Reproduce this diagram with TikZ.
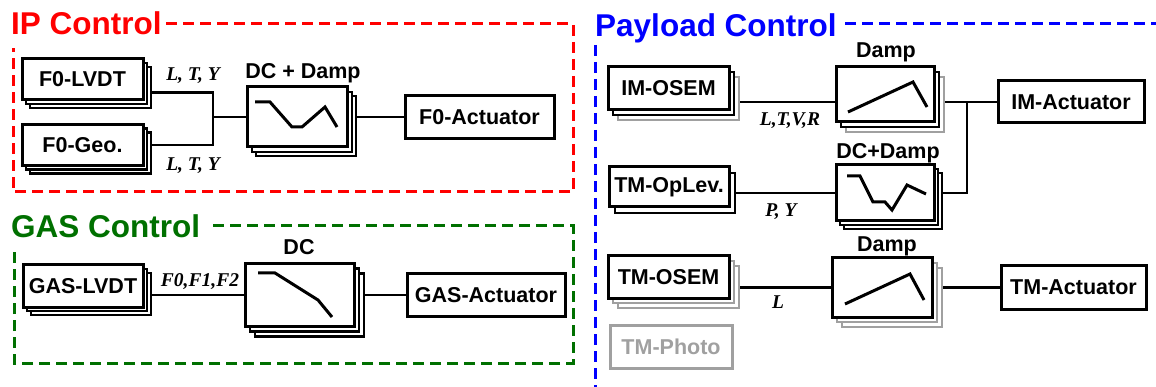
\documentclass[tikz,border=0pt]{standalone}
\usepackage{fontspec}
\setmainfont{Liberation Sans}
\newfontfamily\sigfont{Liberation Serif}
\usetikzlibrary{shadows,backgrounds}
\definecolor{ipred}{RGB}{255,0,0}
\definecolor{gasgreen}{RGB}{0,112,0}
\definecolor{plblue}{RGB}{0,0,255}
\definecolor{shade}{RGB}{160,160,160}
\tikzset{x=1pt,y=-1pt,
  every node/.style={font=\fontsize{21.5}{24}\selectfont\bfseries},
  blk/.style={draw,fill=white,line width=3pt,inner sep=0pt},
  lay/.style={copy shadow={shadow xshift=#1,shadow yshift=-#1,draw=black,fill=white,line width=2.8pt}},
  glay/.style={copy shadow={shadow xshift=#1,shadow yshift=-#1,draw=shade,fill=white,line width=2.8pt}},
  title/.style={font=\fontsize{31.5}{34}\selectfont\bfseries,anchor=base west,inner sep=0pt},
  filtcap/.style={anchor=base,inner sep=0pt},
  sig/.style={font=\sigfont\fontsize{19.5}{22}\selectfont\bfseries\itshape,anchor=base,inner sep=0pt},
  frame/.style={dash pattern=on 11pt off 6pt,line width=3pt},
  wire/.style={line width=2.7pt},
  icon/.style={line width=3pt}}
\begin{document}
\begin{tikzpicture}
\useasboundingbox (0,0) rectangle (1156,387);
% IP control
\node[title,ipred] (iptitle) at (11,35) {IP Control};
\draw[frame,ipred] (166,24) -| (573,192) -| (13,48);
\node[blk,lay=8pt,lay=4pt,minimum width=121pt,minimum height=41pt] (lvdt) at (82.5,79.5) {F0-LVDT};
\node[blk,lay=8pt,lay=4pt,minimum width=121pt,minimum height=41pt] (geo) at (82.5,145) {F0-Geo.};
\node[blk,lay=9pt,lay=5pt,minimum width=100pt,minimum height=60pt] (ipf) at (297,117) {};
\node[blk,minimum width=149pt,minimum height=43pt] (f0act) at (479.5,117) {F0-Actuator};
\node[filtcap] (ipcap) at (303,79) {DC + Damp};
\node[sig] (ltya) at (193,81) {L, T, Y};
\node[sig] (ltyb) at (193,171) {L, T, Y};
\draw[icon,shift={(ipf.center)}] (-42,-15)--(-27,-15)--(-5,10)--(5,10)--(28,-10)--(40,10);
\coordinate (jn) at (213,117);
% GAS control
\node[title,gasgreen] (gastitle) at (11,238) {GAS Control};
\draw[frame,gasgreen] (213,226) -| (573,363) -| (14,247);
\node[blk,lay=8pt,lay=4pt,minimum width=120pt,minimum height=42pt] (gaslvdt) at (83,286) {GAS-LVDT};
\node[blk,lay=10pt,lay=5pt,minimum width=109pt,minimum height=63pt] (gasf) at (299.5,295) {};
\node[blk,minimum width=158pt,minimum height=43pt] (gasact) at (486,295) {GAS-Actuator};
\node[filtcap] (gascap) at (299,255) {DC};
\node[sig] (fff) at (200,287) {F0,F1,F2};
\draw[icon,shift={(gasf.center)}] (-41.5,-22)--(-24.5,-22)--(18.5,5)--(32.5,22);
% Payload control
\node[title,plblue] (pltitle) at (595,37) {Payload Control};
\draw[frame,plblue] (845,24) -- (1156,24);
\draw[frame,plblue] (595,45) -- (595,387);
\node[blk,glay=10pt,lay=5pt,minimum width=121pt,minimum height=43pt] (imosem) at (668.5,88.5) {IM-OSEM};
\node[blk,lay=6pt,minimum width=120pt,minimum height=40pt] (oplev) at (669,187) {TM-OpLev.};
\node[blk,glay=10pt,glay=5pt,minimum width=121pt,minimum height=42pt] (tmosem) at (668.5,277) {TM-OSEM};
\node[blk,draw=shade,text=shade,minimum width=122pt,minimum height=43pt] (tmphoto) at (671,346.5) {TM-Photo};
\node[blk,glay=10pt,lay=5pt,minimum width=98pt,minimum height=55pt] (imf) at (885,94.5) {};
\node[blk,lay=8pt,lay=4pt,minimum width=98pt,minimum height=56pt] (dcf) at (885,193) {};
\node[blk,glay=10pt,glay=5pt,minimum width=100pt,minimum height=59pt] (tmf) at (882,287.5) {};
\node[blk,minimum width=146pt,minimum height=42pt] (imact) at (1071,102) {IM-Actuator};
\node[blk,minimum width=145pt,minimum height=43pt] (tmact) at (1073.5,287.5) {TM-Actuator};
\node[filtcap] (imcap) at (886,58) {Damp};
\node[filtcap] (dccap) at (888,159) {DC+Damp};
\node[filtcap] (tmcap) at (887,252) {Damp};
\node[sig] (ltvr) at (790,126) {L,T,V,R};
\node[sig] (py) at (781,217) {P, Y};
\node[sig] (lsig) at (778,308) {L};
\draw[icon,shift={(imf.center)}] (-37,17.5)--(28,-12.5)--(42,12.5);
\draw[icon,shift={(dcf.center)}] (-38,-17)--(-25,-17)--(-12,9)--(0,9)--(7,17)--(22,-8)--(41,1);
\draw[icon,shift={(tmf.center)}] (-37,16.5)--(28,-13.5)--(42,12.5);
\coordinate (pj) at (967,0);
% connectors, behind the stacked boxes
\begin{scope}[on background layer]
\draw[wire] ([yshift=-13pt]lvdt.east) -| (jn) |- (geo.east);
\draw[wire] (jn) -- (ipf.west);
\draw[wire] (ipf.east) -- (f0act.west);
\draw[wire] ([yshift=-9pt]gaslvdt.east) -- (gasf.west);
\draw[wire] (gasf.east) -- (gasact.west);
\draw[wire] (imosem.east|-imact.west) -- (imf.west|-imact.west);
\draw[wire] (imf.east|-imact.west) -- (imact.west);
\draw[wire] (dcf.east) -| (pj|-imact.west);
\draw[wire] (oplev.east|-dcf.west) -- (dcf.west);
\draw[wire] (tmosem.east|-tmf.west) -- (tmf.west);
\draw[wire] (tmf.east) -- (tmact.west);
\end{scope}
\end{tikzpicture}
\end{document}
